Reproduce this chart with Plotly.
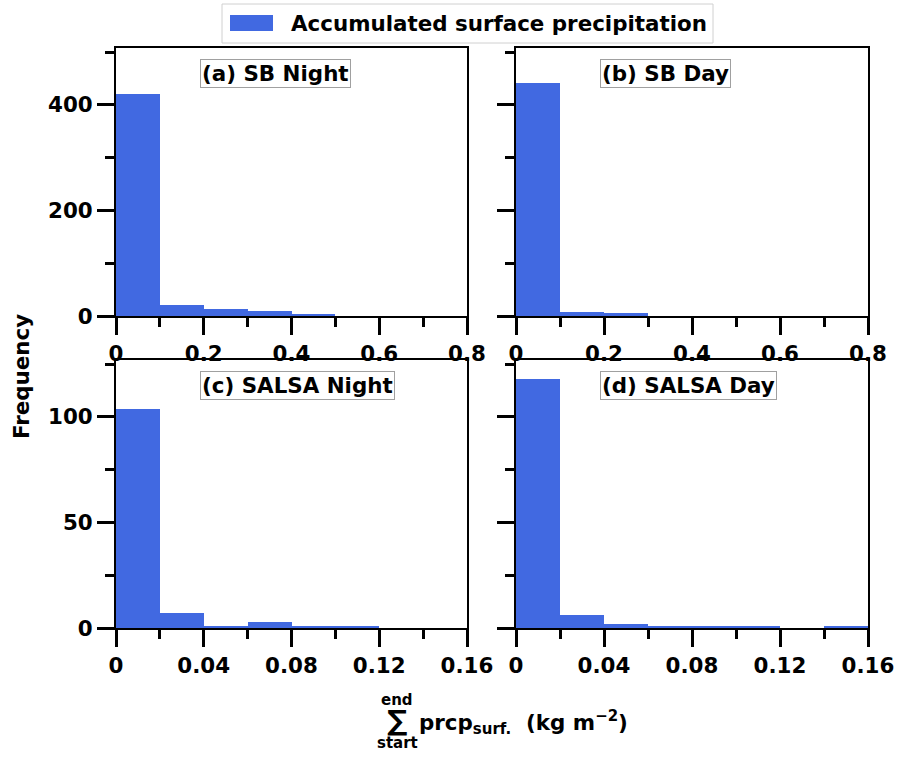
import plotly.graph_objects as go

# ---- data ----
edges_top = [0.0, 0.1, 0.2, 0.3, 0.4, 0.5, 0.6, 0.7, 0.8]
edges_bot = [0.0, 0.02, 0.04, 0.06, 0.08, 0.10, 0.12, 0.14, 0.16]
counts_sb_night = [421, 20, 14, 10, 3, 0, 0, 0]
counts_sb_day = [442, 8, 6, 0, 0, 0, 0, 0]
counts_salsa_night = [104, 7, 1, 3, 1, 1, 0, 0]
counts_salsa_day = [118, 6, 2, 1, 1, 1, 0, 1]
titles = ["(a) SB Night", "(b) SB Day", "(c) SALSA Night", "(d) SALSA Day"]
legend_label = "Accumulated surface precipitation"
xtick_top = [0, 0.2, 0.4, 0.6, 0.8]
xtick_top_txt = ["0", "0.2", "0.4", "0.6", "0.8"]
xtick_bot = [0, 0.04, 0.08, 0.12, 0.16]
xtick_bot_txt = ["0", "0.04", "0.08", "0.12", "0.16"]
ytick_top = [0, 200, 400]
ytick_bot = [0, 50, 100]

BLUE = "#4169E1"
FONT = "DejaVu Sans"
FS = 21.4

panels = [
    (edges_top, counts_sb_night, 1),
    (edges_top, counts_sb_day, 2),
    (edges_bot, counts_salsa_night, 3),
    (edges_bot, counts_salsa_day, 4),
]

fig = go.Figure()
for i, (edges, counts, k) in enumerate(panels):
    lefts = edges[:-1]
    widths = [edges[j + 1] - edges[j] for j in range(len(lefts))]
    fig.add_trace(go.Bar(
        x=lefts, y=counts, width=widths, offset=0,
        marker=dict(color=BLUE, line=dict(width=0)),
        name=legend_label,
        showlegend=False,
        xaxis="x" if k == 1 else f"x{k}",
        yaxis="y" if k == 1 else f"y{k}",
    ))

W, H = 898, 758
dom_x = [[116/W, 467/W], [516/W, 868/W]]
dom_y_top = [1 - 316/H, 1 - 48/H]
dom_y_bot = [1 - 628/H, 1 - 360/H]

tickfont = dict(family=FONT, size=FS, color="black", weight="bold")

def xaxis(dom, anchor, rng, tv, tt, dt):
    return dict(domain=dom, anchor=anchor, range=rng, tickvals=tv, ticktext=tt,
                automargin=False,
                showline=True, mirror=True, linecolor="black", linewidth=2,
                ticks="outside", ticklen=17, tickwidth=2.5, tickcolor="black",
                showgrid=False, zeroline=False, tickfont=tickfont,
                minor=dict(ticks="outside", ticklen=9, tickwidth=2.5, tickcolor="black",
                           dtick=dt, tick0=0, showgrid=False))

def yaxis(dom, anchor, rng, tv, dt, show):
    return dict(domain=dom, anchor=anchor, range=rng, tickvals=tv,
                ticktext=[str(v) for v in tv], showticklabels=show,
                automargin=False,
                showline=True, mirror=True, linecolor="black", linewidth=2,
                ticks="outside", ticklen=17, tickwidth=2.5, tickcolor="black",
                showgrid=False, zeroline=False, tickfont=tickfont,
                minor=dict(ticks="outside", ticklen=9, tickwidth=2.5, tickcolor="black",
                           dtick=dt, tick0=0, showgrid=False))

fig.update_layout(
    width=W, height=H,
    margin=dict(l=0, r=0, t=0, b=0, autoexpand=False),
    plot_bgcolor="white", paper_bgcolor="white",
    bargap=0, showlegend=False,
    font=dict(family=FONT, color="black"),
    xaxis=xaxis(dom_x[0], "y", [0, 0.8], xtick_top, xtick_top_txt, 0.1),
    xaxis2=xaxis(dom_x[1], "y2", [0, 0.8], xtick_top, xtick_top_txt, 0.1),
    xaxis3=xaxis(dom_x[0], "y3", [0, 0.16], xtick_bot, xtick_bot_txt, 0.02),
    xaxis4=xaxis(dom_x[1], "y4", [0, 0.16], xtick_bot, xtick_bot_txt, 0.02),
    yaxis=yaxis(dom_y_top, "x", [0, 508], ytick_top, 100, True),
    yaxis2=yaxis(dom_y_top, "x2", [0, 508], ytick_top, 100, False),
    yaxis3=yaxis(dom_y_bot, "x3", [0, 127], ytick_bot, 25, True),
    yaxis4=yaxis(dom_y_bot, "x4", [0, 127], ytick_bot, 25, False),
)

# legend box (drawn to match the wide patch of the original)
fig.add_shape(type="rect", xref="paper", yref="paper",
              x0=222/W, x1=713/W, y0=1 - 43/H, y1=1 - 4/H,
              line=dict(color="#d0d0d0", width=1), fillcolor="white", layer="above")
fig.add_shape(type="rect", xref="paper", yref="paper",
              x0=230/W, x1=273/W, y0=1 - 31/H, y1=1 - 15/H,
              line=dict(width=0), fillcolor=BLUE, layer="above")
fig.add_annotation(text=legend_label, xref="paper", yref="paper",
                   x=289/W, y=1 - 23/H, xanchor="left", yanchor="middle",
                   showarrow=False, font=dict(family=FONT, size=FS, color="black", weight="bold"))

axrefs = [("x", "y"), ("x2", "y2"), ("x3", "y3"), ("x4", "y4")]
for t, (xr, yr) in zip(titles, axrefs):
    fig.add_annotation(text=t, xref=f"{xr} domain", yref=f"{yr} domain",
                       x=0.24, y=0.905, xanchor="left", yanchor="middle",
                       showarrow=False, bordercolor="#a0a0a0", borderwidth=1,
                       borderpad=1, bgcolor="white",
                       font=dict(family=FONT, size=FS, color="black", weight="bold"))

fig.add_annotation(text="Frequency", xref="paper", yref="paper", x=21/W, y=1 - 377/H,
                   textangle=-90, showarrow=False, xanchor="center", yanchor="middle",
                   font=dict(family=FONT, size=FS, color="black", weight="bold"))

lab_font = dict(family=FONT, size=FS, color="black", weight="bold")
fig.add_annotation(text="end", xref="paper", yref="paper", x=397/W, y=1 - 700/H,
                   xanchor="center", yanchor="middle",
                   showarrow=False, font=dict(family=FONT, size=15, color="black", weight="bold"))
fig.add_annotation(text="∑", xref="paper", yref="paper", x=397/W, y=1 - 720/H,
                   xanchor="center", yanchor="middle",
                   showarrow=False, font=dict(family=FONT, size=28, color="black", weight="bold"))
fig.add_annotation(text="start", xref="paper", yref="paper", x=397/W, y=1 - 743/H,
                   xanchor="center", yanchor="middle",
                   showarrow=False, font=dict(family=FONT, size=15, color="black", weight="bold"))
fig.add_annotation(text="prcp<sub>surf.</sub>  (kg m<sup>−2</sup>)", xref="paper", yref="paper",
                   x=417/W, y=1 - 722/H, xanchor="left", yanchor="middle",
                   showarrow=False, font=lab_font)

fig.write_html("out.html", config={"displayModeBar": False},
               post_script="document.body.style.margin='0';document.body.style.padding='0';")
